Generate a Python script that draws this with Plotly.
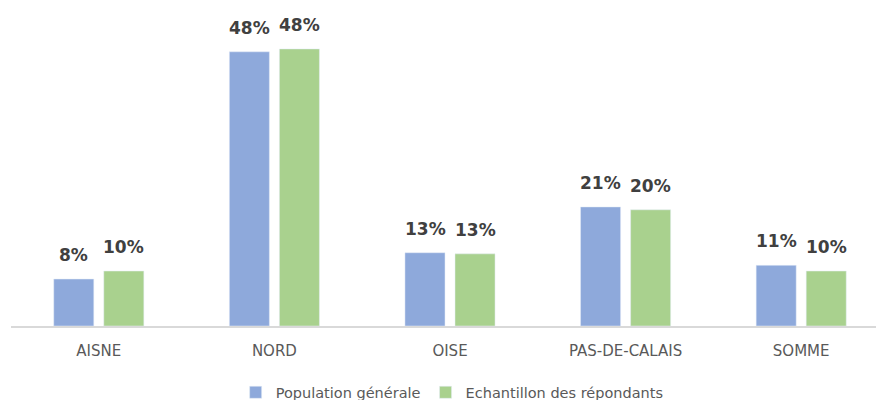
import plotly.graph_objects as go

categories = ["AISNE", "NORD", "OISE", "PAS-DE-CALAIS", "SOMME"]
pop_values = [8.2, 47.9, 12.8, 20.8, 10.6]
pop_labels = ["8%", "48%", "13%", "21%", "11%"]
ech_values = [9.6, 48.4, 12.6, 20.3, 9.6]
ech_labels = ["10%", "48%", "13%", "20%", "10%"]
series_names = ["Population générale", "Echantillon des répondants"]

BLUE = "#8EA9DB"
GREEN = "#A9D18E"
FONT = "DejaVu Sans"

fig = go.Figure()
fig.add_trace(go.Bar(x=categories, y=pop_values, name=series_names[0], marker_color=BLUE))
fig.add_trace(go.Bar(x=categories, y=ech_values, name=series_names[1], marker_color=GREEN))

# value labels above bars
for vals, labels, shift in [(pop_values, pop_labels, -25), (ech_values, ech_labels, 25)]:
    for cat, v, lab in zip(categories, vals, labels):
        fig.add_annotation(
            x=cat, y=v, xref="x", yref="y", text=lab, showarrow=False,
            xanchor="center", yanchor="bottom", xshift=shift, yshift=12,
            font=dict(family=FONT, size=17, color="#404040", weight="bold"),
        )

fig.update_layout(
    width=876, height=400,
    margin=dict(l=11, r=0, t=10, b=74, autoexpand=False),
    paper_bgcolor="white", plot_bgcolor="white",
    barmode="group", bargap=0.43, bargroupgap=0.2,
    font=dict(family=FONT, color="#595959"),
    showlegend=True,
    legend=dict(orientation="h", x=0.51, xanchor="center", y=-0.21, yanchor="middle",
                font=dict(family=FONT, size=14.5, color="#595959"),
                itemwidth=30, tracegroupgap=0, traceorder="normal"),
)
fig.update_xaxes(
    type="category", range=[-0.5, 4.426],
    showline=True, linecolor="#D9D9D9", linewidth=1.5,
    ticks="outside", ticklen=10, tickcolor="rgba(0,0,0,0)",
    tickfont=dict(family=FONT, size=15, color="#595959"),
    showgrid=False, zeroline=False,
)
fig.update_yaxes(range=[0, 55.2], visible=False, showgrid=False, zeroline=False)

fig.write_html("out.html")
